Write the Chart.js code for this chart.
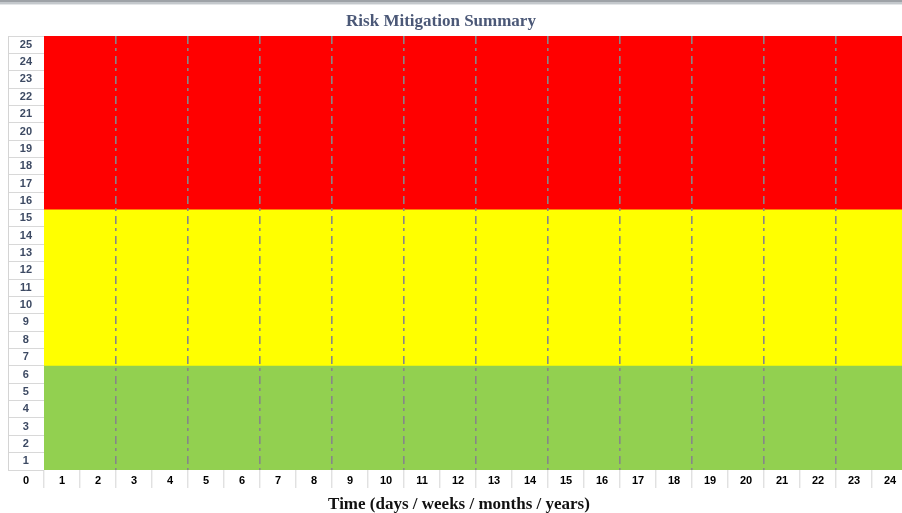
<!DOCTYPE html>
<html>
<head>
<meta charset="utf-8">
<title>Risk Mitigation Summary</title>
<script src="https://cdn.jsdelivr.net/npm/chart.js@4.4.1/dist/chart.umd.min.js"></script>
<style>
  html, body { margin: 0; padding: 0; background: #ffffff; overflow: hidden; }
  canvas { display: block; }
</style>
</head>
<body>
<canvas id="riskChart" width="912" height="513"></canvas>
<script>
// Time periods along the bottom of the grid
const timeLabels = ['1', '2', '3', '4', '5', '6', '7', '8', '9', '10', '11', '12',
                    '13', '14', '15', '16', '17', '18', '19', '20', '21', '22', '23', '24'];
// Risk score rows, top to bottom
const scoreLabels = ['25', '24', '23', '22', '21', '20', '19', '18', '17', '16', '15', '14', '13',
                     '12', '11', '10', '9', '8', '7', '6', '5', '4', '3', '2', '1'];
const originLabel = '0';
// Risk zones and the score each one reaches
const zoneNames = ['Low', 'Medium', 'High'];
const zoneUpper = [6, 15, 25];
// Span of the time axis
const timeSpan = [0, 24];
const scoreMax = 25;

const zoneColors = ['#92d050', '#ffff00', '#ff0000'];

const datasets = zoneNames.map((name, i) => ({
  label: name,
  xAxisID: 'xv',
  yAxisID: 'yv',
  data: timeSpan.map(t => ({ x: t, y: zoneUpper[i] })),
  fill: 'origin',
  backgroundColor: zoneColors[i],
  borderWidth: 0,
  pointRadius: 0,
  tension: 0
}));

const frame = {
  id: 'frame',
  beforeDraw(chart) {
    const c = chart.ctx;
    c.save();
    c.fillStyle = '#ffffff';
    c.fillRect(0, 0, chart.width, chart.height);
    c.fillStyle = '#9ea2a7';
    c.fillRect(0, 0, chart.width, 2);
    c.fillStyle = '#c4c8cc';
    c.fillRect(0, 2, chart.width, 2);
    c.fillStyle = '#e4e6e8';
    c.fillRect(0, 4, chart.width, 1);
    c.restore();
  },
  afterDraw(chart) {
    const c = chart.ctx;
    const a = chart.chartArea;
    const ys = chart.scales.y;
    const xs = chart.scales.x;
    c.save();
    // outer edge of the score column
    c.strokeStyle = '#d4d4d4';
    c.lineWidth = 1;
    c.beginPath();
    c.moveTo(Math.round(ys.left) + 0.5, a.top);
    c.lineTo(Math.round(ys.left) + 0.5, a.bottom);
    c.stroke();
    // origin cell
    c.font = 'bold 11px "Liberation Sans", Arial, sans-serif';
    c.fillStyle = '#000000';
    c.textAlign = 'center';
    c.textBaseline = 'middle';
    c.fillText(originLabel, (ys.left + ys.right) / 2, xs.top + 11);
    // chart title
    c.font = 'bold 17px "Liberation Serif", "Times New Roman", serif';
    c.fillStyle = '#4b5877';
    c.fillText('Risk Mitigation Summary', 441, 22);
    // time axis title
    c.font = 'bold 17px "Liberation Serif", "Times New Roman", serif';
    c.fillStyle = '#111111';
    c.fillText('Time (days / weeks / months / years)', 459, 505);
    c.restore();
  }
};

new Chart(document.getElementById('riskChart'), {
  type: 'line',
  data: { labels: timeLabels, datasets },
  plugins: [frame],
  options: {
    responsive: false,
    animation: false,
    devicePixelRatio: 1,
    events: [],
    layout: { padding: { left: 8, top: 36, right: 4, bottom: 25 } },
    plugins: {
      legend: { display: false },
      title: { display: false },
      tooltip: { enabled: false }
    },
    scales: {
      xv: { type: 'linear', display: false, min: timeSpan[0], max: timeSpan[1] },
      yv: { type: 'linear', display: false, min: 0, max: scoreMax },
      x: {
        type: 'category',
        position: 'bottom',
        offset: true,
        afterFit(scale) { scale.height = 18; },
        border: { display: false, dash: [8, 4, 3, 5] },
        grid: {
          offset: true,
          z: 1,
          drawOnChartArea: true,
          drawTicks: true,
          tickLength: 18,
          tickColor: '#d4d4d4',
          tickWidth: 1,
          lineWidth: 1.6,
          color: ctx => (ctx.index > 0 && ctx.index < timeLabels.length && ctx.index % 2 === 0)
            ? '#878787' : 'rgba(0,0,0,0)'
        },
        ticks: {
          autoSkip: false,
          maxRotation: 0,
          padding: -14,
          color: '#000000',
          font: { family: '"Liberation Sans", Arial, sans-serif', size: 11, weight: 'bold' }
        }
      },
      y: {
        type: 'category',
        position: 'left',
        labels: scoreLabels,
        offset: true,
        afterFit(scale) { scale.width = 36; },
        border: { display: false },
        grid: {
          offset: true,
          drawOnChartArea: false,
          drawTicks: true,
          tickLength: 36,
          tickColor: '#d8d8d8',
          tickWidth: 1
        },
        ticks: {
          autoSkip: false,
          crossAlign: 'center',
          padding: -24,
          color: '#3d4a63',
          font: { family: '"Liberation Sans", Arial, sans-serif', size: 11, weight: 'bold' }
        }
      }
    }
  }
});
</script>
</body>
</html>
